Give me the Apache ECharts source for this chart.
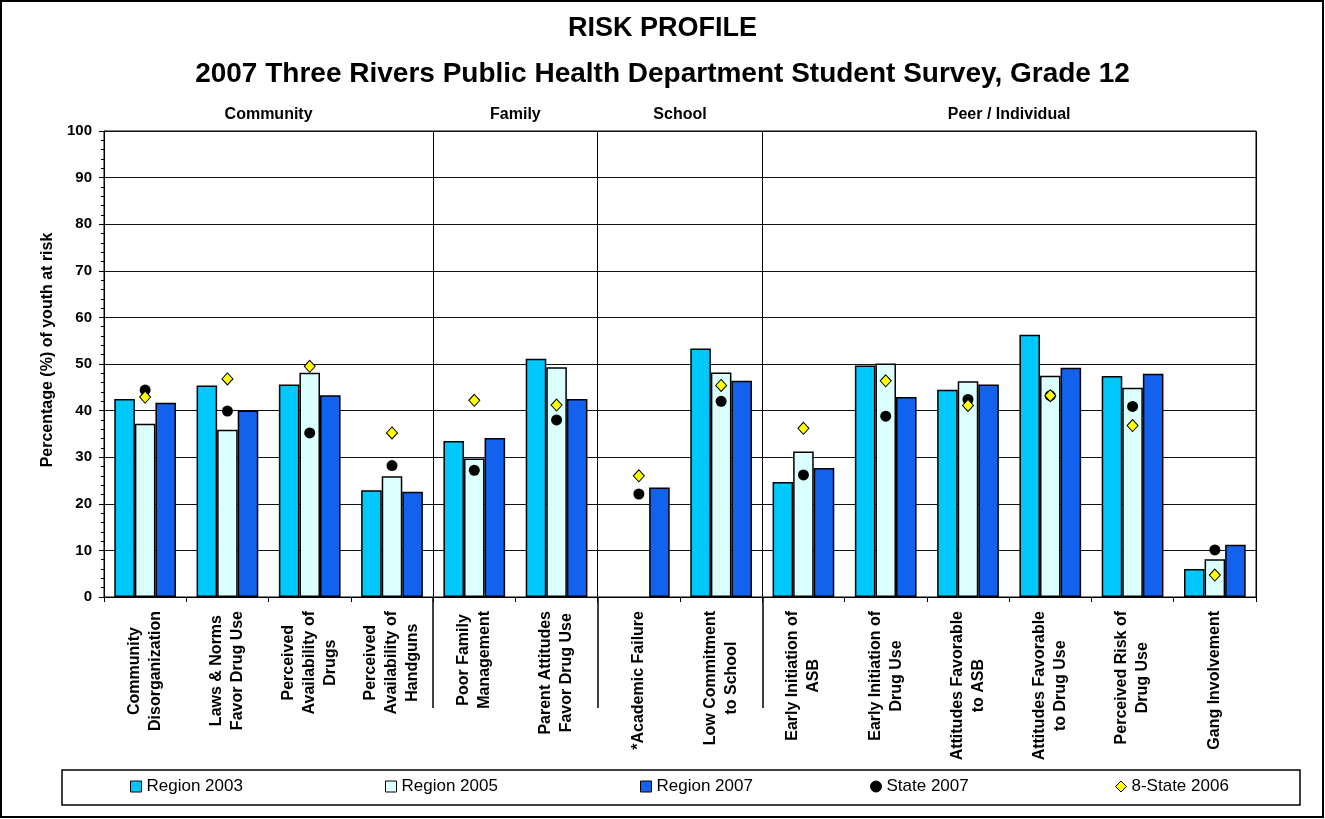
<!DOCTYPE html>
<html lang="en">
<head>
  <meta charset="UTF-8">
  <title>Risk Profile - Grade 12</title>
  <script src="https://cdn.jsdelivr.net/npm/echarts@6/dist/echarts.min.js"></script>
  <style>
    body { margin: 0; background: #fff; }
    #chart { width: 1325px; height: 819px; }
  </style>
</head>
<body>
  <div id="chart"></div>
  <script>
    // data
    const categories = [
      'Community\nDisorganization', 'Laws & Norms\nFavor Drug Use',
      'Perceived\nAvailability of\nDrugs', 'Perceived\nAvailability of\nHandguns',
      'Poor Family\nManagement', 'Parent Attitudes\nFavor Drug Use',
      '*Academic Failure', 'Low Commitment\nto School',
      'Early Initiation of\nASB', 'Early Initiation of\nDrug Use',
      'Attitudes Favorable\nto ASB', 'Attitudes Favorable\nto Drug Use',
      'Perceived Risk of\nDrug Use', 'Gang Involvement'
    ];
    const region2003 = [42.5, 45.4, 45.6, 22.9, 33.5, 51.1, null, 53.3, 24.7, 49.7, 44.5, 56.3, 47.4, 6.0];
    const region2005 = [37.2, 35.9, 48.1, 25.9, 29.7, 49.3, null, 48.2, 31.2, 50.1, 46.3, 47.5, 44.9, 8.1];
    const region2007 = [41.7, 40.0, 43.3, 22.6, 34.1, 42.5, 23.5, 46.4, 27.7, 42.9, 45.6, 49.2, 47.9, 11.2];
    const state2007 = [44.4, 39.9, 35.2, 28.2, 27.2, 38.0, 22.1, 42.0, 26.2, 38.8, 42.4, 43.2, 40.9, 10.1];
    const eightState2006 = [42.9, 46.8, 49.5, 35.2, 42.2, 41.2, 26.0, 45.4, 36.2, 46.4, 41.1, 43.2, 36.8, 4.7];

    // domain headers sit on category boundaries (0..14)
    const sectionLabels = ['', '', 'Community', '', '', 'Family', '', 'School', '', '', '', 'Peer / Individual', '', '', ''];
    const sectionBreaks = [4, 6, 8];

    const FONT = '"Liberation Sans", Arial, sans-serif';
    const isBreak = idx => sectionBreaks.indexOf(idx) >= 0;

    const chart = echarts.init(document.getElementById('chart'));

    const legendItems = [
      { name: 'Region 2003', icon: 'rect', left: 130 },
      { name: 'Region 2005', icon: 'rect', left: 385 },
      { name: 'Region 2007', icon: 'rect', left: 640 },
      { name: 'State 2007', icon: 'circle', left: 870 },
      { name: '8-State 2006', icon: 'diamond', left: 1115 }
    ];

    const option = {
      backgroundColor: '#fff',
      animation: false,
      title: {
        text: 'RISK PROFILE',
        subtext: '2007 Three Rivers Public Health Department Student Survey, Grade 12',
        left: 'center',
        top: 10,
        itemGap: 18,
        textStyle: { fontFamily: FONT, fontSize: 27, fontWeight: 'bold', color: '#000' },
        subtextStyle: { fontFamily: FONT, fontSize: 28, fontWeight: 'bold', color: '#000' }
      },
      legend: legendItems.map(it => ({
        data: [{ name: it.name, icon: it.icon }],
        left: it.left,
        top: 778,
        padding: 0,
        itemWidth: 11,
        itemHeight: 11,
        itemGap: 5,
        itemStyle: { borderColor: '#000', borderWidth: 1 },
        textStyle: { fontFamily: FONT, fontSize: 17, color: '#000' },
        selectedMode: false
      })),
      grid: {
        left: 104, right: 69, top: 131, bottom: 222,
        show: true, borderColor: '#000', borderWidth: 1,
        containLabel: false, outerBoundsMode: 'none'
      },
      xAxis: [
        {
          type: 'category',
          data: categories,
          position: 'bottom',
          axisLine: { lineStyle: { color: '#000', width: 1 } },
          axisTick: { show: true, length: 5, lineStyle: { color: '#000' } },
          splitLine: { show: true, interval: (idx) => isBreak(idx), lineStyle: { color: '#000', width: 1 } },
          axisLabel: {
            interval: 0,
            rotate: 90,
            margin: 14,
            color: '#000',
            formatter: v => v.split('\n').map(s => '{c|' + s + '}').join('\n'),
            rich: {
              c: { align: 'center', fontFamily: FONT, fontSize: 16, fontWeight: 'bold', lineHeight: 21, color: '#000' }
            }
          }
        },
        {
          // separators running below the axis between domains
          type: 'category',
          data: sectionLabels,
          boundaryGap: false,
          position: 'bottom',
          axisLine: { show: false },
          axisTick: { show: true, interval: (idx) => isBreak(idx), length: 111, lineStyle: { color: '#000', width: 1.5 } },
          axisLabel: { show: false },
          splitLine: { show: false }
        },
        {
          type: 'category',
          data: sectionLabels,
          boundaryGap: false,
          position: 'top',
          axisLine: { show: false },
          axisTick: { show: false },
          splitLine: { show: false },
          axisLabel: {
            interval: 0,
            margin: 8,
            fontFamily: FONT, fontSize: 16, fontWeight: 'bold', color: '#000'
          }
        }
      ],
      yAxis: {
        type: 'value',
        min: 0, max: 100, interval: 10,
        name: 'Percentage (%) of youth at risk',
        nameLocation: 'middle',
        nameGap: 47,
        nameTextStyle: { fontFamily: FONT, fontSize: 16, fontWeight: 'bold', color: '#000', padding: [0, 0, 0, 28] },
        axisLine: { show: true, lineStyle: { color: '#000', width: 1 } },
        axisTick: { show: true, length: 5, lineStyle: { color: '#000' } },
        minorTick: { show: true, splitNumber: 5, length: 3, lineStyle: { color: '#000' } },
        splitLine: { show: true, lineStyle: { color: '#111', width: 1 } },
        axisLabel: { margin: 12, fontFamily: FONT, fontSize: 15, fontWeight: 'bold', color: '#000' }
      },
      series: [
        {
          name: 'Region 2003', type: 'bar', data: region2003,
          barGap: '0%', barCategoryGap: '25%',
          itemStyle: { color: '#00C8FA', borderColor: '#000', borderWidth: 1.5 }
        },
        {
          name: 'Region 2005', type: 'bar', data: region2005,
          itemStyle: { color: '#DCFFFF', borderColor: '#000', borderWidth: 1.5 }
        },
        {
          name: 'Region 2007', type: 'bar', data: region2007,
          itemStyle: { color: '#1262EE', borderColor: '#000', borderWidth: 1.5 }
        },
        {
          name: 'State 2007', type: 'scatter', data: state2007,
          symbol: 'circle', symbolSize: 11, z: 5,
          itemStyle: { color: '#000', opacity: 1 }
        },
        {
          name: '8-State 2006', type: 'scatter', data: eightState2006,
          symbol: 'diamond', symbolSize: [11, 12], z: 6,
          itemStyle: { color: '#FFFF00', borderColor: '#000', borderWidth: 1, opacity: 1 }
        }
      ],
      graphic: [
        {
          type: 'rect', silent: true,
          shape: { x: 62, y: 770, width: 1238, height: 35 },
          style: { fill: 'none', stroke: '#000', lineWidth: 1.5 }
        },
        {
          type: 'rect', silent: true,
          shape: { x: 1, y: 1, width: 1322, height: 816 },
          style: { fill: 'none', stroke: '#000', lineWidth: 2 }
        }
      ]
    };

    chart.setOption(option);
  </script>
</body>
</html>
